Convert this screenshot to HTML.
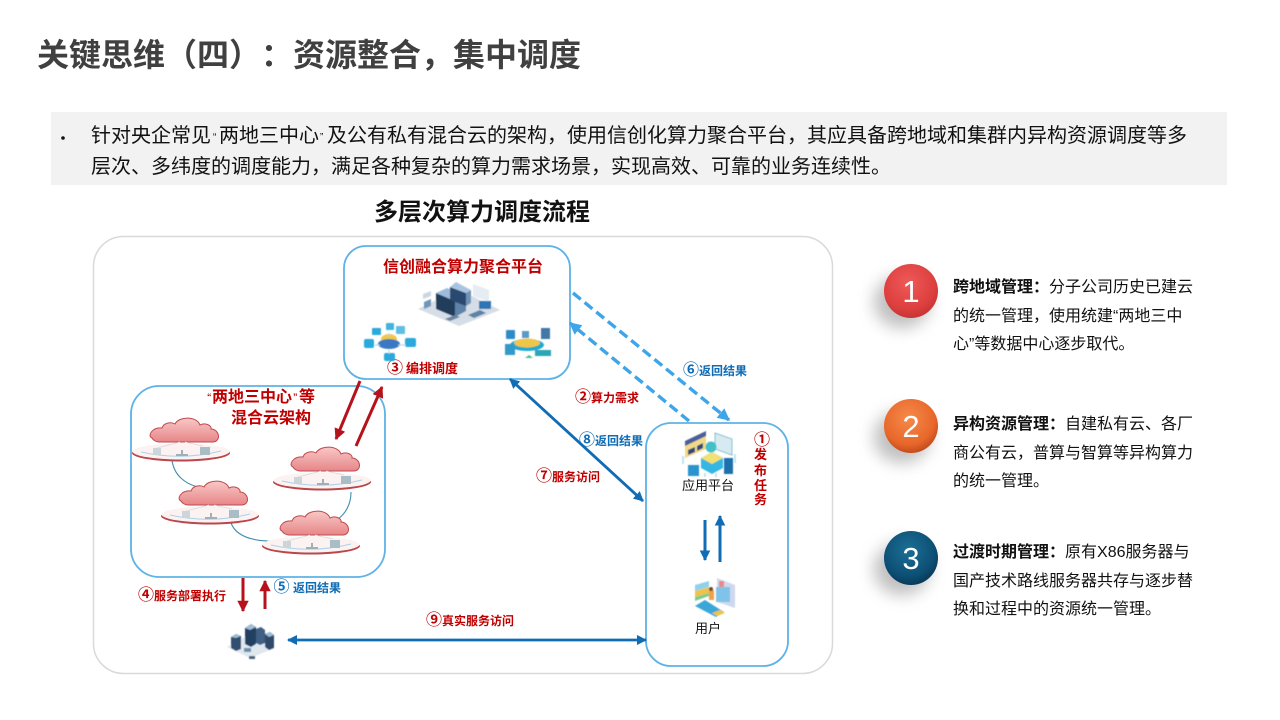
<!DOCTYPE html>
<html><head><meta charset="utf-8"><style>
html,body{margin:0;padding:0;background:#fff}
svg{display:block}
text{font-family:"Liberation Sans","Noto Sans CJK SC",sans-serif;text-spacing-trim:space-all;font-feature-settings:"chws" 0,"palt" 0}
.r{fill:#c00000;font-weight:700;font-size:12px}
.b{fill:#0f6cb5;font-weight:700;font-size:12px}
.c{font-size:16px}
.t{fill:#111;font-size:16px}
.t tspan.h{font-weight:700}
.soft{filter:url(#sf)}
</style></head><body>
<svg width="1280" height="720" viewBox="0 0 1280 720" xmlns="http://www.w3.org/2000/svg">
<defs>
<radialGradient id="g1" cx=".45" cy=".35" r=".7"><stop offset="0" stop-color="#ee5a58"/><stop offset=".7" stop-color="#dc3f3e"/><stop offset="1" stop-color="#c23133"/></radialGradient>
<radialGradient id="g2" cx=".45" cy=".35" r=".7"><stop offset="0" stop-color="#f58a4a"/><stop offset=".7" stop-color="#e8672a"/><stop offset="1" stop-color="#b8431a"/></radialGradient>
<radialGradient id="g3" cx=".45" cy=".35" r=".7"><stop offset="0" stop-color="#1b6f96"/><stop offset=".7" stop-color="#0d4f74"/><stop offset="1" stop-color="#07344f"/></radialGradient>
<linearGradient id="cl" x1="0" y1="0" x2="0" y2="1"><stop offset="0" stop-color="#f8c8c6"/><stop offset="1" stop-color="#e78688"/></linearGradient>
<filter id="bl" x="-50%" y="-50%" width="200%" height="200%"><feGaussianBlur stdDeviation="8"/></filter>
<filter id="sf" x="-10%" y="-10%" width="120%" height="120%"><feGaussianBlur stdDeviation="0.4"/></filter>
<marker id="mr" viewBox="0 0 10 10" refX="9" refY="5" markerWidth="3.8" markerHeight="3.8" markerUnits="strokeWidth" orient="auto-start-reverse"><path d="M0 0L10 5L0 10z" fill="#b5121b"/></marker>
<marker id="mb" viewBox="0 0 10 10" refX="9" refY="5" markerWidth="3.6" markerHeight="3.6" markerUnits="strokeWidth" orient="auto-start-reverse"><path d="M0 0L10 5L0 10z" fill="#0f6cb5"/></marker>
<marker id="ml" viewBox="0 0 10 10" refX="9" refY="5" markerWidth="3.6" markerHeight="3.6" markerUnits="strokeWidth" orient="auto-start-reverse"><path d="M0 0L10 5L0 10z" fill="#3fa5ea"/></marker>
<g id="cloud">
<ellipse cx="-4" cy="23" rx="49" ry="8.5" fill="#b9474c"/>
<ellipse cx="-4" cy="21.5" rx="48.5" ry="8" fill="#fcf2f1"/>
<path d="M-44 22Q-4 31 36 21" fill="none" stroke="#a9d3ea" stroke-width="1"/>
<path d="M-33 8C-38 6 -33 -3 -23 -2C-21 -8 -13 -8 -10 -6C-6 -14 12 -14 15 -5C21 -8 27 -4 26 -1C34 -1 37 11 28 12L-26 12C-29 12 -32 10 -33 8Z" fill="url(#cl)" stroke="#bf4a4e" stroke-width="1"/>
<rect x="-32" y="18" width="8" height="7" fill="#ccd5d9"/>
<path d="M-9 25h12M-3 20v5" stroke="#9fb0b8" stroke-width="2"/>
<rect x="15" y="17" width="10" height="8" fill="#a9bdc6"/>
<path d="M-28 18L-5 12M0 12L18 16" stroke="#d8d8d8" stroke-width=".7"/>
</g>
</defs>
<rect width="1280" height="720" fill="#fff"/>

<text x="37" y="66" font-size="32" font-weight="700" fill="#404040">关键思维（四）：资源整合，集中调度</text>

<rect x="51" y="112" width="1176" height="73" fill="#f2f2f2"/>
<circle cx="63" cy="138" r="1.8" fill="#111"/>
<text y="142" font-size="20" fill="#111"><tspan x="91">针对央企常见</tspan><tspan x="213" y="140" font-size="10">“</tspan><tspan x="219" y="142">两地三中心</tspan><tspan x="320" y="140" font-size="10">”</tspan><tspan x="327" y="142">及公有私有混合云的架构，使用信创化算力聚合平台，其应具备跨地域和集群内异构资源调度等多</tspan></text>
<text x="91" y="173" font-size="20" fill="#111">层次、多纬度的调度能力，满足各种复杂的算力需求场景，实现高效、可靠的业务连续性。</text>

<text x="374" y="220" font-size="24" font-weight="700" fill="#111">多层次算力调度流程</text>

<rect x="93.5" y="236.5" width="739" height="437" rx="30" fill="#fff" stroke="#d9d9d9" stroke-width="1.5"/>

<!-- boxes -->
<rect x="344" y="246" width="226" height="133" rx="22" fill="#fff" stroke="#5db2e6" stroke-width="1.8"/>
<rect x="131" y="386" width="254" height="191" rx="28" fill="#fff" stroke="#5db2e6" stroke-width="1.8"/>
<rect x="646" y="423" width="142" height="243" rx="25" fill="#fff" stroke="#5db2e6" stroke-width="1.8"/>

<!-- platform texts -->
<text x="383" y="272" font-size="16" font-weight="700" fill="#c00000">信创融合算力聚合平台</text>
<text y="373" class="r" font-size="13"><tspan x="387" class="c">③</tspan><tspan x="406" font-size="13">编排调度</tspan></text>

<!-- server icon center -->
<g class="soft">
<path d="M418 309L458 289L500 310L459 326Z" fill="#d5dde6"/>
<path d="M436 293L455 301V317L436 309Z" fill="#223c5c"/>
<path d="M455 301L466 295V311L455 317Z" fill="#5f82a8"/>
<path d="M436 293L447 288L466 295L455 301Z" fill="#9dbbdc"/>
<path d="M450 287L466 293V306L450 300Z" fill="#2c4a70"/>
<path d="M466 293L471 290V303L466 306Z" fill="#6f92b6"/>
<path d="M450 287L456 282L471 290L466 293Z" fill="#a9c4e2"/>
<path d="M473 284L489 290V302L473 296Z" fill="#e5edf2"/>
<rect x="479" y="301" width="12" height="8" fill="#2f74b5"/>
<path d="M468 315l12-5 6 3-12 5z" fill="#5f82a6"/>
<path d="M445 319l10-4 5 2-10 4z" fill="#6a859f"/>
<path d="M424 302l7-3v7l-7 3z" fill="#6f95b8"/>
<path d="M423 294l8-3v5l-8 3z" fill="#cad7e2"/>
</g>

<!-- network icon left -->
<g class="soft">
<g fill="#29a9dc">
<rect x="364" y="339" width="10" height="9" rx="2"/><rect x="372" y="328" width="9" height="7" rx="1"/><rect x="396" y="326" width="9" height="8" rx="1" fill="#5dbfe3"/><rect x="405" y="338" width="11" height="9" rx="2"/><rect x="384" y="353" width="11" height="8" rx="2"/>
<rect x="386" y="323" width="8" height="7" rx="1" fill="#3fb3df"/>
</g>
<ellipse cx="389" cy="339" rx="8" ry="5" fill="#f1c74a"/><ellipse cx="389" cy="344" rx="11" ry="5" fill="#3a78c4"/>
<path d="M375 345h5M398 345h8M389 333v3M389 350v4" stroke="#a8d4ea" stroke-width="1"/>
</g>

<!-- icon right -->
<g class="soft">
<ellipse cx="527" cy="345" rx="17" ry="6" fill="#22a8d0"/><ellipse cx="527" cy="343" rx="13" ry="4.5" fill="#f0c648"/>
<rect x="506" y="330" width="9" height="9" rx="1" fill="#2e8bc9"/><rect x="505" y="344" width="10" height="11" fill="#3199c9"/><rect x="541" y="328" width="9" height="11" fill="#4377a8"/><rect x="535" y="350" width="16" height="6" fill="#2aa6b4"/><rect x="522" y="331" width="7" height="7" fill="#5a9ac8"/>
<path d="M525 358h8l-4-3z" fill="#3fbf8f"/>
</g>

<!-- left box text -->
<text y="402" font-size="16" font-weight="700" fill="#c00000"><tspan x="207" y="400" font-size="9">“</tspan><tspan x="212" y="402">两地三中心</tspan><tspan x="293" y="400" font-size="9">”</tspan><tspan x="299" y="402">等</tspan></text>
<text x="231" y="423" font-size="16" font-weight="700" fill="#c00000">混合云架构</text>

<!-- cloud links -->
<g fill="none" stroke="#3f8fb0" stroke-width="1.1">
<path d="M172 460C174 476 186 484 198 487"/>
<path d="M351 492C351 505 345 514 338 519"/>
<path d="M231 523C236 536 252 541 272 541"/>
</g>
<use href="#cloud" x="185" y="430"/>
<use href="#cloud" x="326" y="459"/>
<use href="#cloud" x="214" y="493"/>
<use href="#cloud" x="315" y="523"/>

<!-- red diag arrows -->
<line x1="360" y1="381" x2="336" y2="439" stroke="#b5121b" stroke-width="3" marker-end="url(#mr)"/>
<line x1="356" y1="446" x2="382" y2="387" stroke="#b5121b" stroke-width="3" marker-end="url(#mr)"/>

<!-- dashed -->
<line x1="573" y1="293" x2="729" y2="420" stroke="#3fa5ea" stroke-width="3.4" stroke-dasharray="10 5" marker-end="url(#ml)"/>
<line x1="689" y1="421" x2="570" y2="323" stroke="#3fa5ea" stroke-width="3.4" stroke-dasharray="10 5" marker-end="url(#ml)"/>

<!-- double -->
<line x1="510" y1="379" x2="643" y2="501" stroke="#0f6cb5" stroke-width="2.8" marker-start="url(#mb)" marker-end="url(#mb)"/>

<!-- right box arrows -->
<line x1="705" y1="520" x2="705" y2="560" stroke="#0f6cb5" stroke-width="3" marker-end="url(#mb)"/>
<line x1="720" y1="562" x2="720" y2="516" stroke="#0f6cb5" stroke-width="3" marker-end="url(#mb)"/>

<!-- bottom arrows -->
<line x1="243" y1="578" x2="243" y2="611" stroke="#b5121b" stroke-width="3" marker-end="url(#mr)"/>
<line x1="265" y1="609" x2="265" y2="581" stroke="#b5121b" stroke-width="3" marker-end="url(#mr)"/>
<line x1="288" y1="640" x2="646" y2="640" stroke="#0f6cb5" stroke-width="2.8" marker-start="url(#mb)" marker-end="url(#mb)"/>

<!-- labels -->
<text y="402" class="r"><tspan x="575" class="c">②</tspan><tspan x="591">算力需求</tspan></text>
<text y="375" class="b"><tspan x="683" class="c">⑥</tspan><tspan x="699">返回结果</tspan></text>
<text y="445" class="b"><tspan x="579" class="c">⑧</tspan><tspan x="595">返回结果</tspan></text>
<text y="481" class="r"><tspan x="536" class="c">⑦</tspan><tspan x="552">服务访问</tspan></text>
<text y="600" class="r"><tspan x="138" class="c">④</tspan><tspan x="154">服务部署执行</tspan></text>
<text y="592" class="b"><tspan x="273.5" class="c">⑤</tspan><tspan x="293">返回结果</tspan></text>
<text y="625" class="r"><tspan x="426" class="c">⑨</tspan><tspan x="442">真实服务访问</tspan></text>

<!-- right box -->
<g font-size="13" font-weight="700" fill="#c00000" text-anchor="middle">
<text x="762" y="445" font-size="16">①</text>
<text x="760.5" y="459">发</text>
<text x="760.5" y="475">布</text>
<text x="760.5" y="490">任</text>
<text x="760.5" y="504">务</text>
</g>
<text x="682" y="490" font-size="13" fill="#111">应用平台</text>
<text x="695" y="633" font-size="13" fill="#111">用户</text>

<!-- app icon -->
<g class="soft">
<path d="M685 441L706 431V449L685 458Z" fill="#f1d98a"/><path d="M685 441L706 431V436L685 446Z" fill="#4a5f9c"/>
<path d="M688 450l7-3v5l-7 3zM697 446l6-3v5l-6 3z" fill="#2d4a7a"/>
<path d="M715 433L732 439V455L715 449Z" fill="#d6eaf2" stroke="#69b3c4" stroke-width=".8"/>
<path d="M701 458L712 452L723 458V468L712 474L701 468Z" fill="#36b6e4"/>
<path d="M701 458L712 452L723 458L712 464Z" fill="#f3e072"/>
<circle cx="711" cy="447" r="5.5" fill="#3fc0c7"/>
<rect x="724" y="458" width="9" height="16" fill="#1f6fae"/>
<rect x="688" y="465" width="11" height="11" fill="#2a94cf"/>
<path d="M683 456v8M735 454v9M705 473v4M716 473v4" stroke="#bfe4f2" stroke-width="2"/>
</g>

<!-- user icon -->
<g class="soft">
<path d="M695 585L709 581V587L695 591Z" fill="#8fd0ea"/><path d="M695 591L709 587V593L695 597Z" fill="#f0c24a"/><path d="M695 597L709 593V596L695 601Z" fill="#7ecb8f"/>
<path d="M717 578L735 585V608L717 602Z" fill="#cfd8ee"/>
<rect x="716" y="587" width="14" height="15" fill="#7fc3e8"/>
<rect x="719" y="581" width="5" height="6" fill="#e88a8a"/>
<rect x="709" y="590" width="5" height="10" fill="#f0a04a"/>
<circle cx="711" cy="589" r="2" fill="#6b4a3a"/>
<path d="M695 606L705 600L724 612L716 617Z" fill="#3aa7d8"/>
<path d="M712 613l8-3 5 3-8 3z" fill="#f0c24a"/>
</g>

<!-- server bottom icon -->
<g class="soft">
<path d="M227 647L248 635L275 648L250 658Z" fill="#dfe7ef"/>
<path d="M231 637l5-3 5 2v13l-5 2-5-3z" fill="#33506f"/><path d="M231 637l5-3 5 2-5 2z" fill="#9dbbd4"/>
<path d="M245 628l6-4 5 3v17l-5 3-6-3z" fill="#233f5e"/><path d="M245 628l6-4 5 3-6 3z" fill="#a2bed6"/>
<path d="M256 629l5-2 4 3v13l-5 2-4-2z" fill="#3f5f82"/>
<path d="M265 634l5-2 4 3v13l-5 2-4-3z" fill="#2e4a6b"/><path d="M265 634l5-2 4 3-5 2z" fill="#9dbbd4"/>
<rect x="244" y="648" width="7" height="4" fill="#6a8fb0"/>
<rect x="249" y="656" width="6" height="3" fill="#46637f"/>
</g>

<!-- numbered circles -->
<g>
<ellipse cx="902" cy="302" rx="28" ry="26" fill="#8a8a8a" opacity=".55" filter="url(#bl)"/>
<circle cx="911" cy="291" r="27" fill="url(#g1)"/>
<text x="911" y="302" font-size="31" fill="#fff" text-anchor="middle">1</text>
<ellipse cx="902" cy="437" rx="28" ry="26" fill="#8a8a8a" opacity=".55" filter="url(#bl)"/>
<circle cx="911" cy="426" r="27" fill="url(#g2)"/>
<text x="911" y="437" font-size="31" fill="#fff" text-anchor="middle">2</text>
<ellipse cx="902" cy="569" rx="28" ry="26" fill="#8a8a8a" opacity=".55" filter="url(#bl)"/>
<circle cx="911" cy="558" r="27" fill="url(#g3)"/>
<text x="911" y="569" font-size="31" fill="#fff" text-anchor="middle">3</text>
</g>

<!-- right texts -->
<text x="953" y="292" class="t"><tspan class="h">跨地域管理：</tspan>分子公司历史已建云</text>
<text x="953" y="321" class="t">的统一管理，使用统建“两地三中</text>
<text x="953" y="349" class="t">心”等数据中心逐步取代。</text>
<text x="953" y="429" class="t"><tspan class="h">异构资源管理：</tspan>自建私有云、各厂</text>
<text x="953" y="458" class="t">商公有云，普算与智算等异构算力</text>
<text x="953" y="486" class="t">的统一管理。</text>
<text x="953" y="557" class="t"><tspan class="h">过渡时期管理：</tspan>原有X86服务器与</text>
<text x="953" y="586" class="t">国产技术路线服务器共存与逐步替</text>
<text x="953" y="614" class="t">换和过程中的资源统一管理。</text>
</svg>
</body></html>
